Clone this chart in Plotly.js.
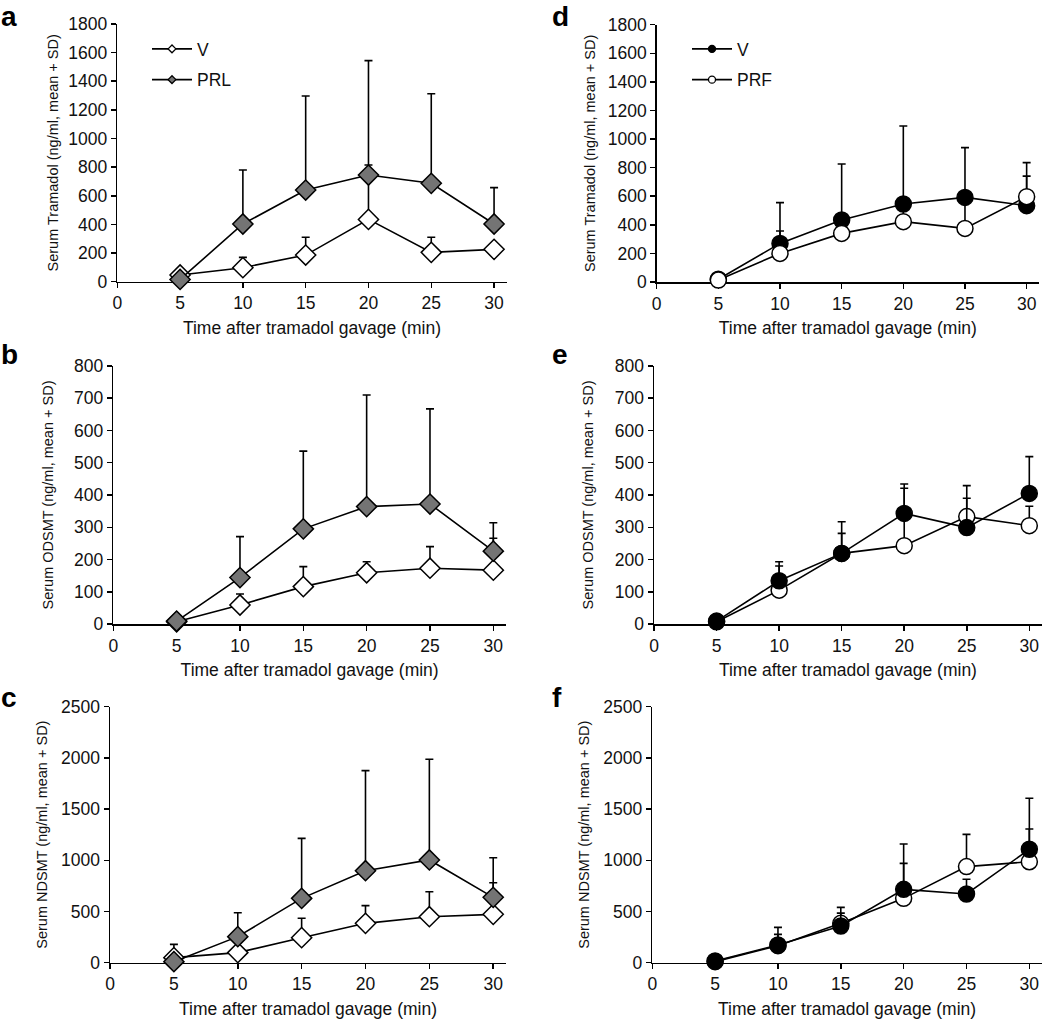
<!DOCTYPE html>
<html>
<head>
<meta charset="utf-8">
<script src="https://cdn.plot.ly/plotly-3.0.1.min.js"></script>
<style>html,body{margin:0;padding:0;background:#fff;}#chart{width:1050px;height:1024px;}</style>
</head>
<body>
<div id="chart"></div>
<script>
// ---- data ----
var timeMin = [5, 10, 15, 20, 25, 30];
var xTickVals = [0, 5, 10, 15, 20, 25, 30];

// Panel a: serum tramadol, V vs PRL
var tramadolV_mean   = [47, 98, 186, 435, 205, 226];
var tramadolV_sd     = [20, 72, 124, 380, 105, 40];
var tramadolPRL_mean = [16, 403, 640, 745, 687, 403];
var tramadolPRL_sd   = [15, 377, 657, 799, 626, 254];

// Panel b: serum ODSMT, V vs PRL
var odsmtV_mean   = [7, 59, 116, 159, 173, 167];
var odsmtV_sd     = [3, 34, 62, 34, 67, 99];
var odsmtPRL_mean = [9, 144, 295, 364, 372, 226];
var odsmtPRL_sd   = [3, 127, 241, 346, 295, 88];

// Panel c: serum NDSMT, V vs PRL
var ndsmtV_mean   = [49, 98, 244, 384, 449, 472];
var ndsmtV_sd     = [130, 100, 189, 173, 244, 309];
var ndsmtPRL_mean = [10, 254, 628, 898, 1003, 638];
var ndsmtPRL_sd   = [10, 234, 586, 977, 983, 387];

// Panel d: serum tramadol, V vs PRF
var tramadolV2_mean  = [19, 270, 434, 546, 592, 534];
var tramadolV2_sd    = [10, 285, 391, 545, 348, 207];
var tramadolPRF_mean = [14, 200, 340, 422, 375, 597];
var tramadolPRF_sd   = [10, 157, 100, 150, 230, 238];

// Panel e: serum ODSMT, V vs PRF
var odsmtV2_mean  = [9, 134, 219, 343, 299, 405];
var odsmtV2_sd    = [3, 59, 98, 91, 91, 114];
var odsmtPRF_mean = [7, 105, 219, 243, 333, 305];
var odsmtPRF_sd   = [3, 75, 62, 178, 96, 60];

// Panel f: serum NDSMT, V vs PRF
var ndsmtV2_mean  = [16, 173, 358, 716, 671, 1107];
var ndsmtV2_sd    = [10, 172, 182, 443, 143, 498];
var ndsmtPRF_mean = [10, 166, 384, 628, 938, 986];
var ndsmtPRF_sd   = [10, 110, 100, 342, 315, 319];

var yTitles = ['Serum Tramadol (ng/ml, mean + SD)', 'Serum ODSMT (ng/ml, mean + SD)', 'Serum NDSMT (ng/ml, mean + SD)'];
var xTitle = 'Time after tramadol gavage (min)';
var panelLetters = ['a', 'b', 'c', 'd', 'e', 'f'];
var legendNamesLeft = ['V', 'PRL'];
var legendNamesRight = ['V', 'PRF'];

// ---- styling ----
var FONT = 'Liberation Sans, Arial, Helvetica, sans-serif';
var TXT = '#111111';
var GRAY = '#747474';

function zeros(n){ var a=[]; for(var i=0;i<n;i++) a.push(0); return a; }

function series(xa, ya, mean, sd, symbol, fill){
  return {
    x: timeMin, y: mean, xaxis: xa, yaxis: ya, type: 'scatter', mode: 'lines+markers',
    showlegend: false, cliponaxis: false,
    line: {color: '#000', width: 1.6},
    marker: {symbol: symbol, size: symbol === 'diamond' ? 15.5 : 16, color: fill, line: {color: '#000', width: 1.5}},
    error_y: {type: 'data', symmetric: false, array: sd, arrayminus: zeros(sd.length), color: '#000', thickness: 1.6, width: 4}
  };
}
function legendEntry(legendId, group, name, symbol, fill){
  return {
    x: [null], y: [null], xaxis: 'x', yaxis: 'y', type: 'scatter', mode: 'lines+markers',
    name: name, legend: legendId, legendgroup: group, showlegend: true,
    line: {color: '#000', width: 1.6},
    marker: {symbol: symbol, size: symbol === 'diamond' ? 6 : 7, color: fill, line: {color: '#000', width: 1.3}}
  };
}

var traces = [
  series('x','y', tramadolV_mean, tramadolV_sd, 'diamond', '#fff'),
  series('x','y', tramadolPRL_mean, tramadolPRL_sd, 'diamond', GRAY),
  series('x2','y2', odsmtV_mean, odsmtV_sd, 'diamond', '#fff'),
  series('x2','y2', odsmtPRL_mean, odsmtPRL_sd, 'diamond', GRAY),
  series('x3','y3', ndsmtV_mean, ndsmtV_sd, 'diamond', '#fff'),
  series('x3','y3', ndsmtPRL_mean, ndsmtPRL_sd, 'diamond', GRAY),
  series('x4','y4', tramadolV2_mean, tramadolV2_sd, 'circle', '#000'),
  series('x4','y4', tramadolPRF_mean, tramadolPRF_sd, 'circle', '#fff'),
  series('x5','y5', odsmtPRF_mean, odsmtPRF_sd, 'circle', '#fff'),
  series('x5','y5', odsmtV2_mean, odsmtV2_sd, 'circle', '#000'),
  series('x6','y6', ndsmtPRF_mean, ndsmtPRF_sd, 'circle', '#fff'),
  series('x6','y6', ndsmtV2_mean, ndsmtV2_sd, 'circle', '#000'),
  legendEntry('legend', 'l1', legendNamesLeft[0], 'diamond', '#fff'),
  legendEntry('legend', 'l2', legendNamesLeft[1], 'diamond', GRAY),
  legendEntry('legend2', 'r1', legendNamesRight[0], 'circle', '#000'),
  legendEntry('legend2', 'r2', legendNamesRight[1], 'circle', '#fff')
];

function xax(domain){
  return {
    domain: domain, range: [0, 31], tickvals: xTickVals, ticks: 'outside', ticklen: 5, tickwidth: 1.5, tickcolor: '#000',
    showline: true, linecolor: '#000', linewidth: 1.5, showgrid: false, zeroline: false, layer: 'below traces',
    tickfont: {family: FONT, size: 17.5, color: TXT}, fixedrange: true,
    title: {text: xTitle, font: {family: FONT, size: 17.5, color: TXT}, standoff: 9}
  };
}
function yax(domain, max, dtick, title, anchor, standoff){
  return {
    domain: domain, range: [0, max], dtick: dtick, tick0: 0, ticks: 'outside', ticklen: 5, tickwidth: 1.5, tickcolor: '#000',
    showline: true, linecolor: '#000', linewidth: 1.5, showgrid: false, zeroline: false, layer: 'below traces',
    tickfont: {family: FONT, size: 17.5, color: TXT}, anchor: anchor, fixedrange: true,
    title: {text: title, font: {family: FONT, size: 14.5, color: TXT}, standoff: standoff}
  };
}

var rowY = [[0.7249, 0.9766], [0.3906, 0.6426], [0.0599, 0.3099]];
function legendCfg(xpx){
  return {x: xpx/1050, y: 1 - 31/1024, xanchor: 'left', yanchor: 'top', bgcolor: 'rgba(0,0,0,0)',
          font: {family: FONT, size: 17.5, color: TXT}, traceorder: 'grouped', tracegroupgap: 5,
          itemwidth: 40, itemclick: false};
}
var layout = {
  width: 1050, height: 1024,
  margin: {l: 0, r: 0, t: 0, b: 0},
  paper_bgcolor: '#fff', plot_bgcolor: 'rgba(0,0,0,0)',
  font: {family: FONT, color: TXT},
  showlegend: true,
  xaxis:  Object.assign(xax([0.1117, 0.4825]), {anchor: 'y'}),
  xaxis2: Object.assign(xax([0.1079, 0.4819]), {anchor: 'y2'}),
  xaxis3: Object.assign(xax([0.1048, 0.4819]), {anchor: 'y3'}),
  xaxis4: Object.assign(xax([0.6254, 0.9895]), {anchor: 'y4'}),
  xaxis5: Object.assign(xax([0.6229, 0.9922]), {anchor: 'y5'}),
  xaxis6: Object.assign(xax([0.6212, 0.9923]), {anchor: 'y6'}),
  yaxis:  yax(rowY[0], 1800, 200, yTitles[0], 'x', 6),
  yaxis2: yax(rowY[1], 800, 100, yTitles[1], 'x2', 17),
  yaxis3: yax(rowY[2], 2500, 500, yTitles[2], 'x3', 10),
  yaxis4: yax([0.7246, 0.9759], 1800, 200, yTitles[0], 'x4', 8),
  yaxis5: yax(rowY[1], 800, 100, yTitles[1], 'x5', 18),
  yaxis6: yax(rowY[2], 2500, 500, yTitles[2], 'x6', 10),
  legend: legendCfg(147),
  legend2: legendCfg(687),
  annotations: [
    {text: panelLetters[0], x: 0/1050, y: 1},
    {text: panelLetters[1], x: 0/1050, y: 1 - 338/1024},
    {text: panelLetters[2], x: 0/1050, y: 1 - 681/1024},
    {text: panelLetters[3], x: 551/1050, y: 1},
    {text: panelLetters[4], x: 551/1050, y: 1 - 338/1024},
    {text: panelLetters[5], x: 551/1050, y: 1 - 681/1024}
  ].map(function(a){
    return Object.assign(a, {xref: 'paper', yref: 'paper', xanchor: 'left', yanchor: 'top', showarrow: false,
      borderpad: 0, font: {family: FONT, size: 28, color: '#000'}, text: '<b>' + a.text + '</b>'});
  })
};

Plotly.newPlot('chart', traces, layout, {displayModeBar: false, staticPlot: true});
</script>
</body>
</html>
